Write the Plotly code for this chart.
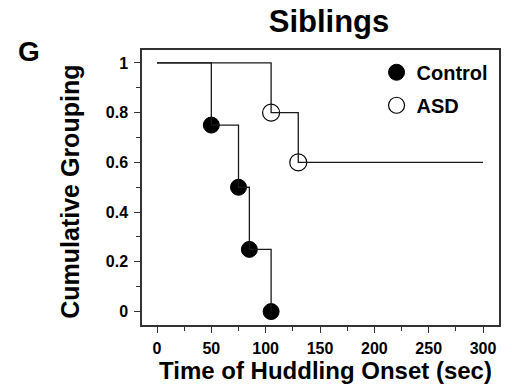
import plotly.graph_objects as go

# Kaplan-Meier style step data: time of huddling onset (sec) vs cumulative grouping
control_time = [0, 50, 75, 85, 105]
control_value = [1, 0.75, 0.5, 0.25, 0]
asd_time = [0, 105, 130, 300]
asd_value = [1, 0.8, 0.6, 0.6]

# events marked with circles (the first row of each series is the start point)
control_event_time = control_time[1:]
control_event_value = control_value[1:]
asd_event_time = asd_time[1:3]
asd_event_value = asd_value[1:3]

x_ticks = [0, 50, 100, 150, 200, 250, 300]
y_ticks = [0, 0.2, 0.4, 0.6, 0.8, 1]
y_tick_text = ["0", "0.2", "0.4", "0.6", "0.8", "1"]

FONT = "Liberation Sans, Arial, sans-serif"
LINE = "#1a1a1a"

fig = go.Figure()

fig.add_trace(go.Scatter(
    x=control_event_time, y=control_event_value, mode="markers", name="Control",
    marker=dict(symbol="circle", size=16, color="black", line=dict(color="black", width=1)),
    legendgroup="a",
))
fig.add_trace(go.Scatter(
    x=asd_event_time, y=asd_event_value, mode="markers", name="ASD",
    marker=dict(symbol="circle-open", size=17, color="black", line=dict(color="black", width=1.2)),
    legendgroup="b",
))
fig.add_trace(go.Scatter(
    x=asd_time, y=asd_value, mode="lines", line_shape="hv", showlegend=False,
    line=dict(color=LINE, width=1.3),
))
fig.add_trace(go.Scatter(
    x=control_time, y=control_value, mode="lines", line_shape="hv", showlegend=False,
    line=dict(color=LINE, width=1.3),
))

axis_common = dict(
    showgrid=False, zeroline=False, showline=True, mirror=True,
    linecolor="#333333", linewidth=1.5,
    ticks="outside", ticklen=6, tickwidth=1.2, tickcolor="#333333",
    tickfont=dict(family=FONT, size=16, color="black", weight="bold"),
)

fig.update_xaxes(
    range=[-13.8, 314.7], tickvals=x_ticks, ticklabelstandoff=2,
    minor=dict(dtick=25, tick0=0, ticks="outside", ticklen=4, tickwidth=1.2, tickcolor="#333333"),
    **axis_common,
)
fig.update_yaxes(
    range=[-0.054, 1.052], tickvals=y_ticks, ticktext=y_tick_text, ticklabelstandoff=3,
    minor=dict(dtick=0.1, tick0=0, ticks="outside", ticklen=4, tickwidth=1.2, tickcolor="#333333"),
    **axis_common,
)

fig.update_layout(
    width=512, height=391,
    margin=dict(l=142, r=13, t=50, b=66),
    paper_bgcolor="white", plot_bgcolor="white",
    font=dict(family=FONT, color="black"),
    title=dict(
        text="Siblings", x=329 / 512, xanchor="center", xref="container",
        y=1 - 21 / 391, yanchor="middle", yref="container",
        font=dict(family=FONT, size=31, color="black", weight="bold"),
    ),
    legend=dict(
        x=0.657, y=0.99, xanchor="left", yanchor="top",
        font=dict(family=FONT, size=20, color="black", weight="bold"),
        bgcolor="rgba(0,0,0,0)", tracegroupgap=4, itemsizing="trace",
    ),
    annotations=[
        dict(text="G", x=-0.3165, y=0.9945, xref="paper", yref="paper",
             xanchor="center", yanchor="middle", showarrow=False,
             font=dict(family=FONT, size=28, color="black", weight="bold")),
        dict(text="Cumulative Grouping", x=-0.2017, y=0.4845, xref="paper", yref="paper",
             xanchor="center", yanchor="middle", showarrow=False, textangle=-90,
             font=dict(family=FONT, size=25, color="black", weight="bold")),
        dict(text="Time of Huddling Onset (sec)", x=0.514, y=-0.166, xref="paper", yref="paper",
             xanchor="center", yanchor="middle", showarrow=False,
             font=dict(family=FONT, size=24, color="black", weight="bold")),
    ],
)

fig.write_html("out.html")
